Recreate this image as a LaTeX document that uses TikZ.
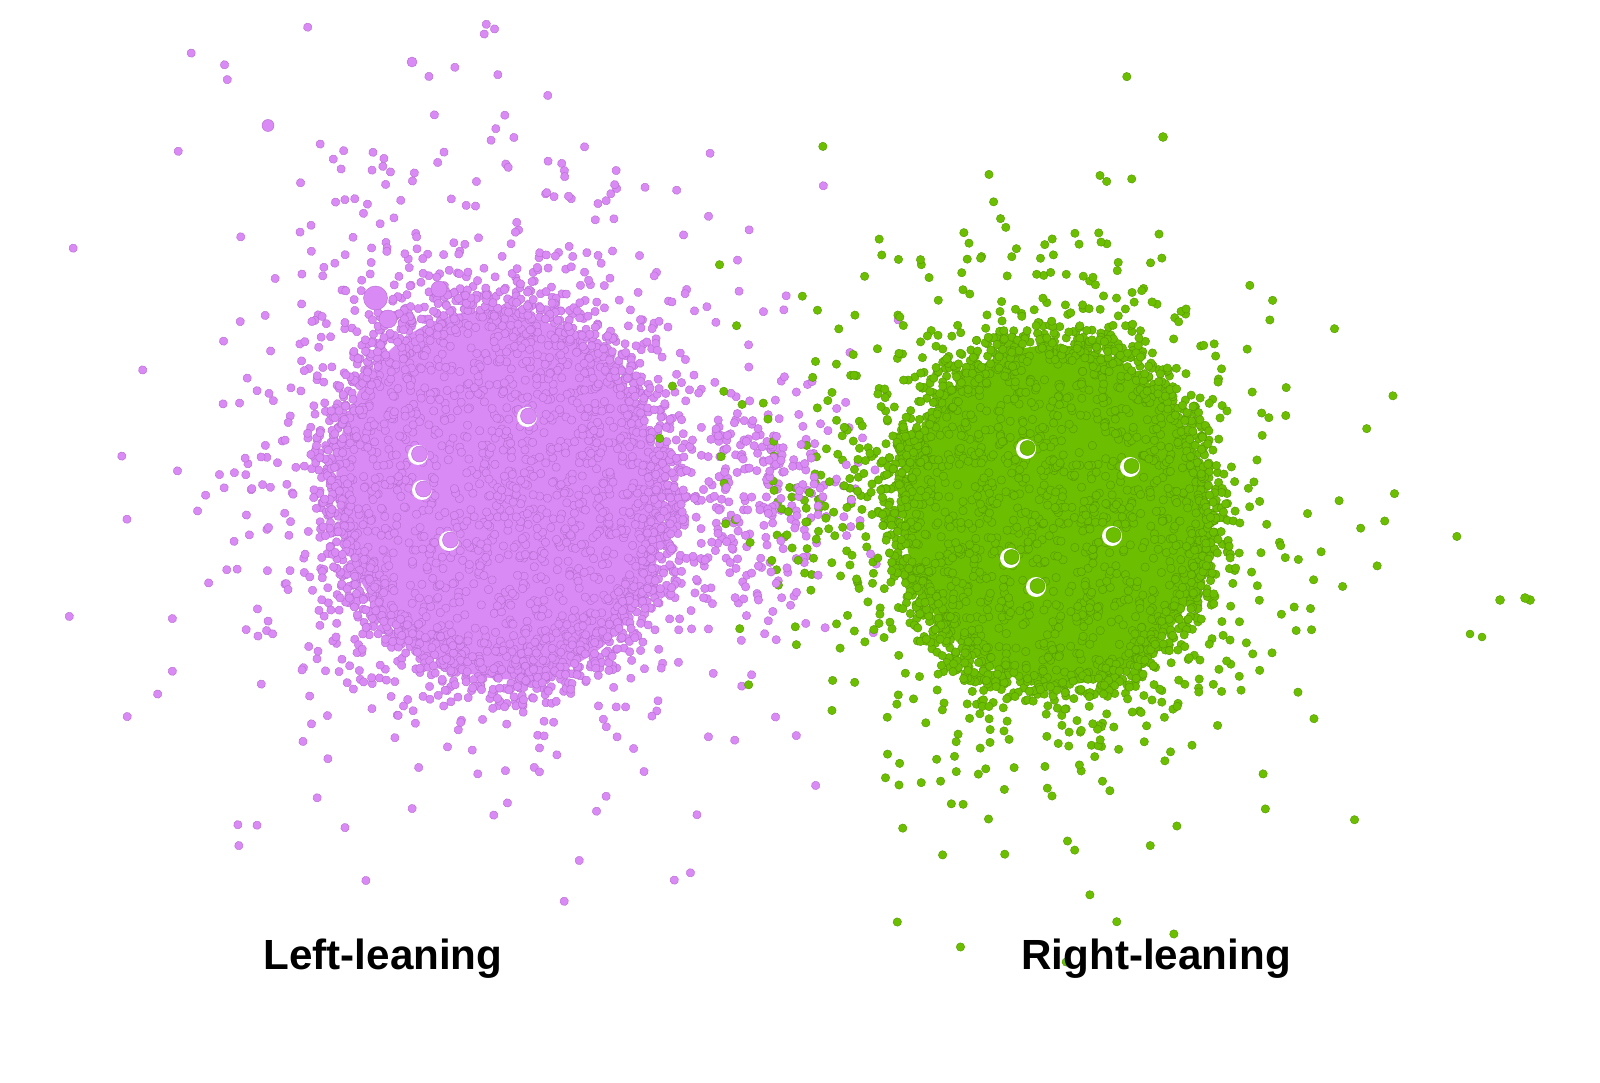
\documentclass[tikz,border=0pt]{standalone}
\usepackage{fontspec}
\setmainfont{Liberation Sans}
\definecolor{pcol}{HTML}{D98AF4}
\definecolor{pedge}{HTML}{B86CD2}
\definecolor{gcol}{HTML}{6CBE00}
\definecolor{gedge}{HTML}{559A00}
\tikzset{
  pdot/.style={fill=pcol, draw=pedge, line width=0.12pt},
  gdot/.style={fill=gcol, draw=gedge, line width=0.12pt},
  lbl/.style={font=\bfseries\fontsize{12}{14}\selectfont, text=black, inner sep=0pt}
}
\begin{document}
\begin{tikzpicture}
\useasboundingbox (0,0) rectangle (16,10.82);
\clip (0,0) rectangle (16,10.82);
\fill[white] (0,0) rectangle (16,10.82);
\pgfmathsetseed{4242}
% ---------------- Purple cluster ----------------
\begin{scope}[shift={(5.0,5.87)}, rotate=15]
  \fill[pcol] (0,0) ellipse (1.62 and 1.86);
  \foreach \i in {1,...,1300}{
    \pgfmathsetmacro\a{360*rnd}
    \pgfmathsetmacro\r{sqrt(rnd)}
    \path[pdot] ({1.73*\r*cos(\a)},{1.99*\r*sin(\a)}) circle (0.042);
  }
  \foreach \i in {1,...,700}{
    \pgfmathsetmacro\a{360*rnd}
    \pgfmathsetmacro\r{0.85+0.22*rnd}
    \path[pdot] ({1.73*\r*cos(\a)},{1.99*\r*sin(\a)}) circle (0.042);
  }
  \foreach \i in {1,...,1000}{
    \pgfmathsetmacro\a{360*rnd}
    \pgfmathsetmacro\r{0.9-0.34*ln(max(rnd,0.007))}
    \pgfmathsetmacro\yy{1.99*\r*sin(\a)*(sin(\a)>0 ? 1.08 : 0.82)}
    \path[pdot] ({1.73*\r*cos(\a)},\yy) circle (0.042);
  }
\end{scope}
% bridge purple
\foreach \i in {1,...,170}{
  \pgfmathsetmacro\u{max(rnd,0.001)}
  \pgfmathsetmacro\v{360*rnd}
  \pgfmathsetmacro\g{sqrt(-2*ln(\u))}
  \path[pdot] ({7.45+0.55*\g*cos(\v)},{5.9+0.6*\g*sin(\v)}) circle (0.042);
}
% large purple dots
\path[pdot] (3.755,7.84) circle (0.12);
\path[pdot] (3.88,7.63) circle (0.09);
\path[pdot] (2.68,9.565) circle (0.06);
\path[pdot] (4.39,7.93) circle (0.08);
\path[pdot] (4.12,10.2) circle (0.05);
% white holes purple
\foreach \x/\y in {4.18/6.27, 5.27/6.65, 4.49/5.41, 4.22/5.92}{
  \fill[white] (\x,\y) circle (0.1);
  \path[pdot] (\x+0.015,\y+0.01) circle (0.08);
}
% ---------------- Green cluster ----------------
\begin{scope}[shift={(10.56,5.67)}, rotate=5]
  \fill[gcol] (0,0) ellipse (1.52 and 1.70);
  \foreach \i in {1,...,1100}{
    \pgfmathsetmacro\a{360*rnd}
    \pgfmathsetmacro\r{sqrt(rnd)}
    \path[gdot] ({1.63*\r*cos(\a)},{1.82*\r*sin(\a)}) circle (0.042);
  }
  \foreach \i in {1,...,600}{
    \pgfmathsetmacro\a{360*rnd}
    \pgfmathsetmacro\r{0.85+0.22*rnd}
    \path[gdot] ({1.63*\r*cos(\a)},{1.82*\r*sin(\a)}) circle (0.042);
  }
  \foreach \i in {1,...,700}{
    \pgfmathsetmacro\a{360*rnd}
    \pgfmathsetmacro\r{0.92-0.31*ln(max(rnd,0.007))}
    \path[gdot] ({1.63*\r*cos(\a)},{1.82*\r*sin(\a)}) circle (0.042);
  }
\end{scope}
% bridge green
\foreach \i in {1,...,90}{
  \pgfmathsetmacro\u{max(rnd,0.001)}
  \pgfmathsetmacro\v{360*rnd}
  \pgfmathsetmacro\g{sqrt(-2*ln(\u))}
  \path[gdot] ({8.35+0.5*\g*cos(\v)},{5.8+0.65*\g*sin(\v)}) circle (0.042);
}
% a few purple on top in bridge
\foreach \i in {1,...,60}{
  \pgfmathsetmacro\u{max(rnd,0.001)}
  \pgfmathsetmacro\v{360*rnd}
  \pgfmathsetmacro\g{sqrt(-2*ln(\u))}
  \path[pdot] ({7.8+0.45*\g*cos(\v)},{5.9+0.5*\g*sin(\v)}) circle (0.042);
}
% white holes green
\foreach \x/\y in {10.26/6.33, 11.30/6.15, 11.12/5.46, 10.10/5.24, 10.36/4.95}{
  \fill[white] (\x,\y) circle (0.1);
  \path[gdot] (\x+0.015,\y+0.01) circle (0.075);
}
% outliers green
\path[gdot] (11.63,9.45) circle (0.045);
\path[gdot] (15.0,4.82) circle (0.045);
\path[gdot] (15.3,4.82) circle (0.045);
\path[gdot] (15.25,4.84) circle (0.045);
\path[gdot] (14.7,4.48) circle (0.04);
\path[gdot] (14.82,4.45) circle (0.04);
% ---------------- Labels ----------------
\node[lbl] (left) at (3.83,1.23) {Left-leaning};
\node[lbl] (right) at (11.56,1.23) {Right-leaning};
\end{tikzpicture}
\end{document}
